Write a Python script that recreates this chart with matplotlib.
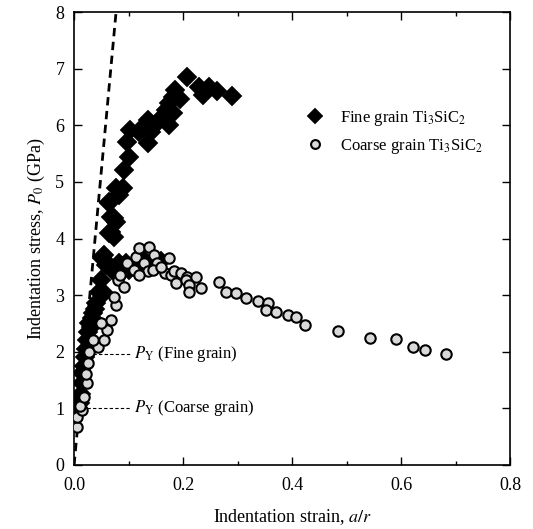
import matplotlib
matplotlib.use("Agg")
import matplotlib.pyplot as plt
from matplotlib.ticker import MultipleLocator

plt.rcParams['font.family'] = ['Liberation Serif', 'DejaVu Serif']
plt.rcParams['mathtext.fontset'] = 'stix'

# fine grain Ti3SiC2 (diamonds)
fine_x = [0.006, 0.010, 0.013, 0.015, 0.015, 0.018, 0.020, 0.022, 0.024, 0.026,
          0.028, 0.031, 0.034, 0.032, 0.040, 0.038, 0.049, 0.045, 0.055, 0.055,
          0.052, 0.058, 0.061, 0.080, 0.083, 0.095, 0.070, 0.100, 0.110, 0.120,
          0.130, 0.140, 0.150, 0.160, 0.064, 0.074, 0.067, 0.074, 0.067, 0.077,
          0.064, 0.064, 0.077, 0.089, 0.083, 0.092, 0.101, 0.098, 0.103, 0.120,
          0.135, 0.141, 0.126, 0.135, 0.156, 0.175, 0.162, 0.181, 0.169, 0.175,
          0.194, 0.181, 0.186, 0.207, 0.230, 0.236, 0.248, 0.262, 0.290]
fine_y = [0.95, 1.10, 1.25, 1.45, 1.62, 1.75, 1.90, 2.05, 2.21, 2.35,
          2.50, 2.44, 2.68, 2.60, 2.86, 2.75, 3.27, 3.05, 3.03, 3.71,
          3.65, 3.53, 3.56, 3.53, 3.56, 3.57, 3.45, 3.45, 3.50, 3.55,
          3.60, 3.55, 3.60, 3.60, 4.09, 4.03, 4.12, 4.36, 4.39, 4.30,
          4.62, 4.65, 4.89, 4.89, 4.77, 5.21, 5.45, 5.71, 5.92, 5.89,
          5.68, 5.89, 5.98, 6.10, 6.07, 6.01, 6.15, 6.21, 6.27, 6.39,
          6.46, 6.51, 6.63, 6.86, 6.67, 6.54, 6.67, 6.61, 6.52]

# coarse grain Ti3SiC2 (open circles)
coarse_x = [0.006, 0.006, 0.015, 0.010, 0.018, 0.024, 0.022, 0.026, 0.028, 0.043,
            0.035, 0.055, 0.061, 0.067, 0.050, 0.077, 0.074, 0.080, 0.092, 0.085,
            0.098, 0.113, 0.120, 0.138, 0.147, 0.129, 0.153, 0.135, 0.166, 0.175,
            0.178, 0.184, 0.196, 0.187, 0.208, 0.205, 0.224, 0.211, 0.211, 0.233,
            0.110, 0.120, 0.145, 0.160,
            0.265, 0.279, 0.297, 0.316, 0.337, 0.356, 0.353, 0.371, 0.392, 0.408,
            0.423, 0.484, 0.543, 0.590, 0.622, 0.644, 0.683]
coarse_y = [0.68, 0.85, 0.97, 1.05, 1.20, 1.44, 1.60, 1.80, 2.00, 2.09,
            2.20, 2.21, 2.39, 2.56, 2.50, 2.83, 2.97, 3.27, 3.15, 3.35,
            3.56, 3.68, 3.83, 3.86, 3.71, 3.56, 3.56, 3.42, 3.39, 3.65,
            3.36, 3.42, 3.39, 3.21, 3.33, 3.27, 3.33, 3.18, 3.06, 3.12,
            3.45, 3.35, 3.45, 3.50,
            3.23, 3.06, 3.03, 2.95, 2.89, 2.86, 2.74, 2.71, 2.65, 2.61,
            2.47, 2.36, 2.25, 2.22, 2.09, 2.04, 1.96]

# elastic line and yield points
elastic_x = [0.0, 0.077]
elastic_y = [0.0, 8.0]
py_fine = 1.96
py_coarse = 1.0

fig = plt.figure(figsize=(5.33, 5.29), dpi=100)
ax = fig.add_axes([0.139, 0.121, 0.818, 0.856])

ax.plot(elastic_x, elastic_y, color='black', lw=2, ls=(0, (3, 2)), zorder=1)

ax.plot(fine_x, fine_y, ls='none', marker='D', ms=10, color='black',
        mec='black', mew=0.3, zorder=2, label=r'Fine grain Ti$_3$SiC$_2$')
ax.plot(coarse_x, coarse_y, ls='none', marker='o', ms=7.5, mfc='0.85',
        mec='black', mew=1.5, zorder=3, label=r'Coarse grain Ti$_3$SiC$_2$')

# yield markers
ax.plot([0.035, 0.105], [py_fine, py_fine], color='black', lw=0.8, ls=(0, (3, 2)))
ax.plot([0.024, 0.105], [py_coarse, py_coarse], color='black', lw=0.8, ls=(0, (3, 2)))
ax.text(0.11, py_fine, r'$P_\mathrm{Y}$ (Fine grain)', fontsize=12, va='center')
ax.text(0.11, py_coarse, r'$P_\mathrm{Y}$ (Coarse grain)', fontsize=12, va='center')

leg = ax.legend(loc='upper left', bbox_to_anchor=(0.5, 0.82), frameon=False,
                fontsize=12, handletextpad=1.0, labelspacing=0.55,
                handlelength=1.0, markerscale=0.85)

ax.set_xlim(0, 0.8)
ax.set_ylim(0, 8)
ax.xaxis.set_major_locator(MultipleLocator(0.2))
ax.xaxis.set_minor_locator(MultipleLocator(0.1))
ax.yaxis.set_major_locator(MultipleLocator(1))
ax.tick_params(which='both', direction='in', top=True, right=True, labelsize=13)
ax.tick_params(which='major', length=6, width=1)
ax.tick_params(which='minor', length=3, width=1)
ax.tick_params(axis='x', which='major', pad=9)
ax.tick_params(axis='y', which='major', pad=7)
for s in ax.spines.values():
    s.set_linewidth(1.2)

ax.set_xlabel(r'Indentation strain, $a/r$', fontsize=13, labelpad=9)
ax.set_ylabel(r'Indentation stress, $P_0$ (GPa)', fontsize=13, labelpad=6)

fig.savefig('out.png', dpi=100)
